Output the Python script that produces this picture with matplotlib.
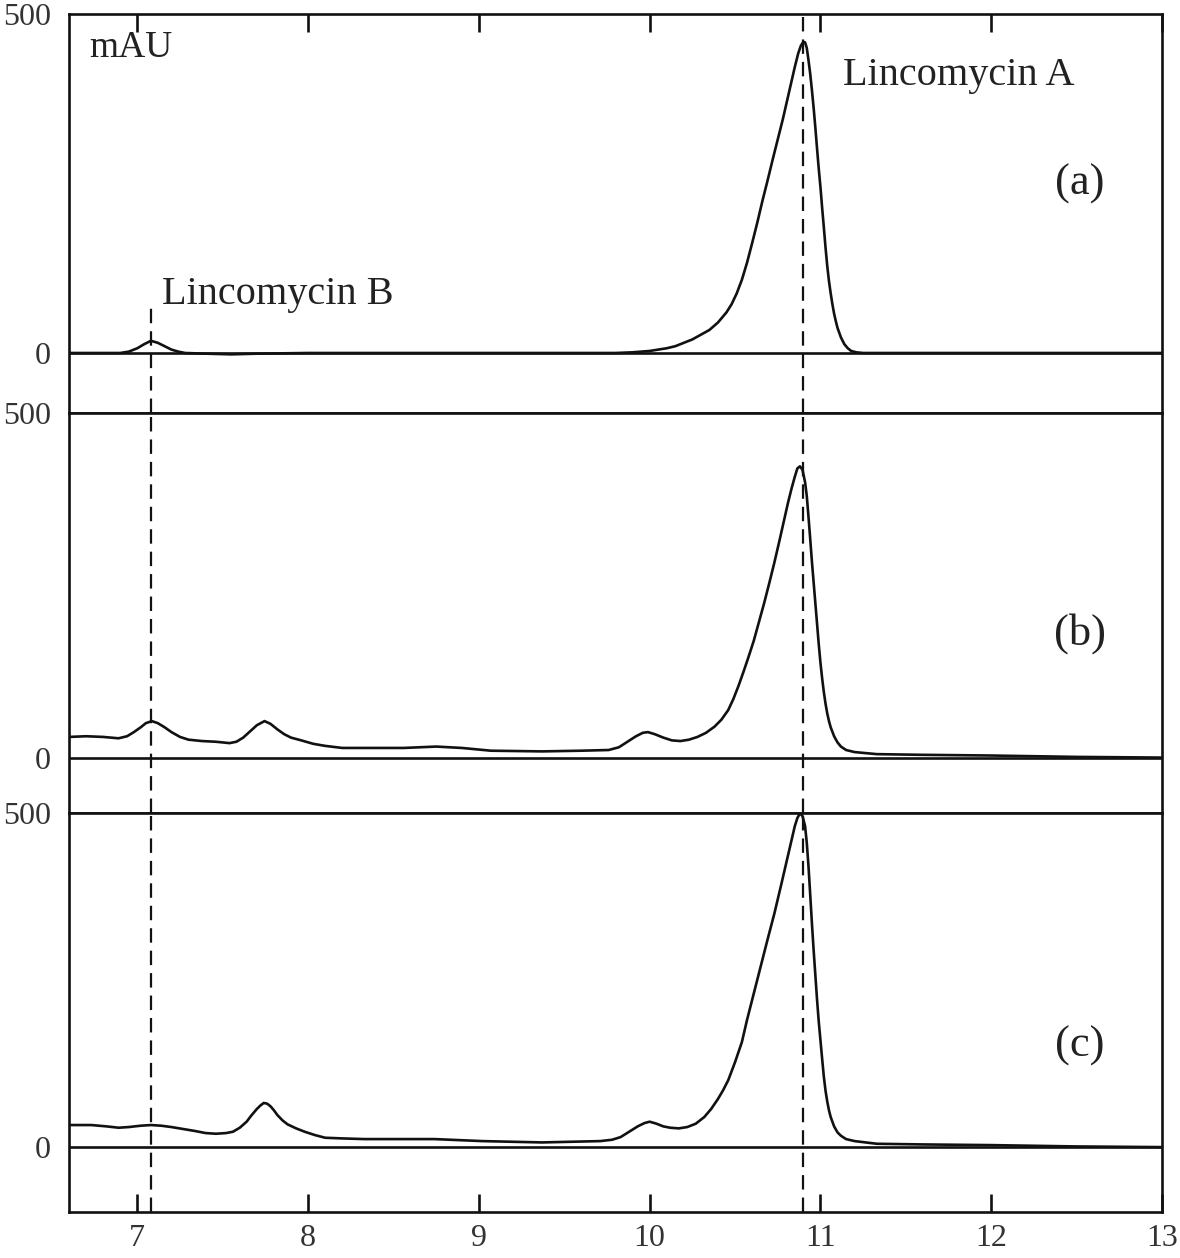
import matplotlib
matplotlib.use("Agg")
import matplotlib.pyplot as plt

plt.rcParams['font.family'] = ['Liberation Serif', 'DejaVu Serif']

# retention time (min) and absorbance (mAU)
a_x = [6.60, 6.90, 6.95, 7.00, 7.04, 7.08, 7.12, 7.16, 7.20, 7.24, 7.28, 7.40, 7.55, 7.70,
       8.00, 9.00, 9.60, 9.80, 9.90, 10.00, 10.05, 10.10, 10.15, 10.20, 10.25, 10.30, 10.35,
       10.40, 10.45, 10.48, 10.51, 10.54, 10.57, 10.60, 10.63, 10.66, 10.69, 10.72, 10.75,
       10.78, 10.81, 10.83, 10.85, 10.87, 10.885, 10.90, 10.91, 10.92, 10.93, 10.94, 10.95,
       10.96, 10.97, 10.98, 10.99, 11.00, 11.01, 11.02, 11.03, 11.04, 11.05, 11.06, 11.07,
       11.08, 11.09, 11.10, 11.12, 11.14, 11.16, 11.18, 11.21, 11.25, 12.00, 13.00]
a_y = [0, 0, 2, 7, 13, 18, 15, 10, 5, 2, 0, -1, -2, -1,
       0, 0, 0, 0, 1, 3, 5, 7, 10, 15, 20, 27, 34,
       45, 60, 72, 88, 108, 133, 162, 192, 224, 254, 285, 315,
       345, 378, 400, 422, 442, 453, 459, 458, 450, 432, 412, 388,
       362, 333, 302, 272, 245, 214, 185, 155, 128, 106, 88, 72,
       58, 47, 37, 23, 13, 7, 3, 1, 0, 0, 0]

b_x = [6.60, 6.70, 6.80, 6.89, 6.94, 6.98, 7.02, 7.05, 7.085, 7.12, 7.16, 7.20, 7.25, 7.30,
       7.38, 7.46, 7.54, 7.58, 7.62, 7.66, 7.70, 7.745, 7.78, 7.82, 7.86, 7.90, 7.96, 8.03,
       8.10, 8.20, 8.40, 8.56, 8.75, 8.90, 9.07, 9.37, 9.60, 9.76, 9.82, 9.87, 9.92, 9.96,
       9.99, 10.03, 10.08, 10.13, 10.18, 10.23, 10.28, 10.33, 10.38, 10.42, 10.46, 10.49,
       10.52, 10.55, 10.58, 10.61, 10.64, 10.67, 10.70, 10.73, 10.76, 10.79, 10.81, 10.83,
       10.85, 10.865, 10.88, 10.895, 10.91, 10.92, 10.93, 10.94, 10.95, 10.96, 10.97, 10.98,
       10.99, 11.00, 11.01, 11.02, 11.03, 11.04, 11.05, 11.06, 11.08, 11.10, 11.12, 11.15,
       11.20, 11.33, 11.60, 12.00, 12.50, 13.00]
b_y = [30, 31, 30, 28, 31, 37, 44, 50, 53, 50, 44, 37, 30, 26,
       24, 23, 21, 23, 29, 38, 47, 53, 49, 41, 34, 29, 25, 20,
       17, 14, 14, 14, 16, 14, 10, 9, 10, 11, 15, 23, 31, 36,
       37, 34, 29, 25, 24, 26, 30, 36, 45, 55, 69, 85,
       104, 125, 147, 170, 197, 224, 253, 283, 315, 348, 370, 390,
       408, 420, 423, 418, 400, 380, 350, 318, 285, 255, 225, 195,
       165, 138, 115, 95, 78, 64, 53, 44, 31, 22, 16, 11,
       8, 5, 4, 3, 1, 0]

c_x = [6.60, 6.73, 6.82, 6.89, 6.95, 7.02, 7.08, 7.14, 7.20, 7.27, 7.34, 7.40, 7.46, 7.52,
       7.56, 7.60, 7.64, 7.67, 7.70, 7.72, 7.74, 7.76, 7.78, 7.80, 7.82, 7.85, 7.88, 7.93,
       7.98, 8.04, 8.10, 8.20, 8.33, 8.74, 9.02, 9.37, 9.71, 9.78, 9.83, 9.88, 9.93, 9.97,
       10.00, 10.04, 10.08, 10.12, 10.17, 10.22, 10.27, 10.32, 10.36, 10.40, 10.43, 10.46,
       10.50, 10.54, 10.57, 10.61, 10.65, 10.69, 10.73, 10.77, 10.80, 10.83, 10.85, 10.865,
       10.88, 10.895, 10.91, 10.92, 10.93, 10.94, 10.95, 10.96, 10.97, 10.98, 10.99, 11.00,
       11.01, 11.02, 11.03, 11.04, 11.05, 11.06, 11.08, 11.10, 11.12, 11.15, 11.20, 11.33,
       11.60, 12.00, 12.50, 13.00]
c_y = [33, 33, 31, 29, 30, 32, 33, 32, 30, 27, 24, 21, 20, 21,
       23, 29, 38, 48, 57, 62, 66, 65, 61, 55, 48, 40, 34, 28,
       23, 18, 14, 13, 12, 12, 9, 7, 9, 11, 15, 23, 31, 36,
       38, 35, 31, 29, 28, 30, 35, 45, 57, 72, 85, 100,
       127, 157, 190, 230, 270, 310, 349, 392, 425, 458, 480, 492,
       499, 495, 480, 455, 420, 378, 335, 295, 258, 221, 188, 160,
       132, 105, 84, 68, 55, 45, 31, 22, 17, 12, 9, 5,
       4, 3, 1, 0]

traces = [(a_x, a_y), (b_x, b_y), (c_x, c_y)]
panel_tags = ['(a)', '(b)', '(c)']
tag_y = [250, 180, 152]
y_bottom = [-89, -80, -97]
x_ticks = [7, 8, 9, 10, 11, 12, 13]
lincomycin_b_rt = 7.08
lincomycin_a_rt = 10.895

fig = plt.figure(figsize=(11.8, 12.58), dpi=100)
gs = fig.add_gridspec(3, 1, left=69 / 1180, right=1162 / 1180,
                      top=1 - 14 / 1258, bottom=1 - 1212 / 1258, hspace=0)
axes = [fig.add_subplot(gs[i]) for i in range(3)]

ink = '#111111'
label_ink = '#333333'
dash = (0, (6.5, 3.6))
for i, ax in enumerate(axes):
    x, y = traces[i]
    ax.plot(x, y, color=ink, lw=1.9, zorder=3, solid_joinstyle='round')
    ax.axhline(0, color=ink, lw=1.9, zorder=2)
    ax.set_xlim(6.6, 13.0)
    ax.set_ylim(y_bottom[i], 500)
    for s in ax.spines.values():
        s.set_linewidth(1.9)
        s.set_color(ink)
    ax.set_yticks([0, 500])
    ax.set_yticklabels(['0', '500'])
    ax.tick_params(axis='y', length=0, pad=13, labelsize=23, labelcolor=label_ink)
    ax.set_xticks(x_ticks)
    ax.tick_params(axis='x', direction='in', length=13, width=1.9, color=ink,
                   top=(i == 0), bottom=(i == 2), labelbottom=(i == 2),
                   labelsize=23, labelcolor=label_ink, pad=9)
    ax.text(12.52, tag_y[i], panel_tags[i], fontsize=32, ha='center', va='center',
            color='#222222')
    # dashed retention-time markers
    lo, hi = ax.get_ylim()
    b_top = 1.0 if i > 0 else (70 - lo) / (hi - lo)
    ax.axvline(lincomycin_b_rt, ymin=0, ymax=b_top, color=ink, lw=1.6, ls=dash, zorder=1)
    ax.axvline(lincomycin_a_rt, ymin=0, ymax=1, color=ink, lw=1.6, ls=dash, zorder=1)

axes[0].text(6.72, 450, 'mAU', fontsize=27, va='center', color='#222222')
axes[0].text(11.13, 410, 'Lincomycin A', fontsize=29, va='center', color='#222222')
axes[0].text(7.145, 87, 'Lincomycin B', fontsize=29, va='center', color='#222222')

fig.savefig('out.png', dpi=100)
